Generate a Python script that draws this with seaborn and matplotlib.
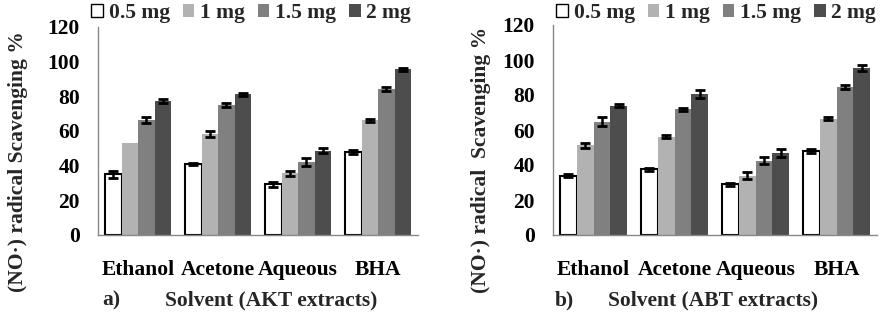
import numpy as np
import pandas as pd
import matplotlib
matplotlib.use("Agg")
import matplotlib.pyplot as plt
from matplotlib.patches import Patch
import seaborn as sns

categories = ["Ethanol", "Acetone", "Aqueous", "BHA"]
doses = ["0.5 mg", "1 mg", "1.5 mg", "2 mg"]

# AKT extracts (panel a)
akt_05 = [35.0, 41.0, 29.3, 47.8]
akt_1 = [53.0, 58.3, 35.5, 66.2]
akt_15 = [66.3, 75.0, 42.2, 84.3]
akt_2 = [77.3, 81.2, 48.6, 95.6]
akt_err_05 = [2.0, 0.6, 1.4, 1.2]
akt_err_1 = [0.0, 1.5, 1.4, 1.0]
akt_err_15 = [1.8, 1.0, 2.5, 1.3]
akt_err_2 = [1.0, 1.0, 1.5, 1.0]

# ABT extracts (panel b)
abt_05 = [34.0, 37.5, 29.0, 47.8]
abt_1 = [51.2, 56.2, 33.8, 66.5]
abt_15 = [64.8, 71.8, 42.3, 84.5]
abt_2 = [73.8, 80.6, 46.8, 95.5]
abt_err_05 = [1.0, 1.0, 1.0, 1.2]
abt_err_1 = [1.5, 0.8, 2.0, 1.0]
abt_err_15 = [2.5, 1.0, 2.0, 1.0]
abt_err_2 = [0.8, 2.5, 2.5, 1.5]

colors = ["#FFFFFF", "#B2B2B2", "#808080", "#4D4D4D"]

W, H = 884, 322
FS = 15.5
FONT = "Liberation Serif"

sns.set_theme(style="white")
plt.rcParams["font.family"] = [FONT, "DejaVu Serif"]
plt.rcParams["font.weight"] = "bold"


def build(vals, errs):
    rows = []
    for d, v, e in zip(doses, vals, errs):
        for c, vv, ee in zip(categories, v, e):
            rows.append({"Solvent": c, "Dose": d, "value": vv, "err": ee})
    return pd.DataFrame(rows)


fig = plt.figure(figsize=(W / 100, H / 100), dpi=100)


def panel(rect, df, ylabel, ylab_coords, tag, tag_xy, xlabel, xlabel_xy, legend_xy):
    ax = fig.add_axes(rect)
    sns.barplot(data=df, x="Solvent", y="value", hue="Dose", order=categories,
                hue_order=doses, palette=colors, errorbar=None, width=0.825,
                linewidth=0, ax=ax)
    if ax.get_legend() is not None:
        ax.get_legend().remove()
    for cont, d in zip(ax.containers, doses):
        sub = df[df["Dose"] == d].set_index("Solvent").loc[categories]
        xs, ys, es = [], [], []
        for bar, v, e in zip(cont, sub["value"], sub["err"]):
            if d == doses[0]:
                bar.set_edgecolor("black")
                bar.set_linewidth(1.5)
            if e > 0:
                xs.append(bar.get_x() + bar.get_width() / 2)
                ys.append(v)
                es.append(e)
        ax.errorbar(xs, ys, yerr=es, fmt="none", ecolor="black",
                    elinewidth=1.8, capsize=3.5, capthick=2.0, zorder=5)
    ax.set_ylim(0, 120)
    ax.set_xlim(-0.5, 3.5)
    ax.set_yticks(np.arange(0, 121, 20))
    ax.tick_params(axis="both", length=0, labelsize=FS, colors="black")
    ax.tick_params(axis="y", pad=13)
    ax.tick_params(axis="x", pad=18)
    for lab in ax.get_xticklabels() + ax.get_yticklabels():
        lab.set_fontweight("bold")
        lab.set_family(FONT)
    for s in ["top", "right"]:
        ax.spines[s].set_visible(False)
    for s in ["left", "bottom"]:
        ax.spines[s].set_color("#888888")
        ax.spines[s].set_linewidth(1.0)
    ax.set_xlabel("")
    ax.set_ylabel(ylabel, fontsize=FS, fontweight="bold", family=FONT)
    ax.yaxis.set_label_coords(*ylab_coords)
    fig.text(tag_xy[0] / W, 1 - tag_xy[1] / H, tag, fontsize=FS,
             fontweight="bold", family=FONT, ha="left", va="center")
    fig.text(xlabel_xy[0] / W, 1 - xlabel_xy[1] / H, xlabel, fontsize=FS,
             fontweight="bold", family=FONT, ha="center", va="center")
    handles = [Patch(facecolor=c, edgecolor="black" if i == 0 else c,
                     linewidth=1.0 if i == 0 else 0)
               for i, c in enumerate(colors)]
    ax.legend(handles, doses, ncol=4, loc="center",
              bbox_to_anchor=(legend_xy[0] / W, 1 - legend_xy[1] / H),
              bbox_transform=fig.transFigure, frameon=False,
              prop={"family": FONT, "weight": "bold", "size": FS},
              handlelength=0.55, handleheight=0.55, handletextpad=0.25,
              columnspacing=0.6, borderpad=0, borderaxespad=0)
    return ax


df_akt = build([akt_05, akt_1, akt_15, akt_2],
               [akt_err_05, akt_err_1, akt_err_15, akt_err_2])
df_abt = build([abt_05, abt_1, abt_15, abt_2],
               [abt_err_05, abt_err_1, abt_err_15, abt_err_2])

panel([98 / W, (H - 235) / H, 320 / W, 208 / H], df_akt,
      "(NO·) radical Scavenging %", (-0.22, 0.351),
      "a)", (102, 300), "Solvent (AKT extracts)", (271, 300), (251, 13))
panel([553 / W, (H - 235) / H, 324 / W, 210 / H], df_abt,
      "(NO·) radical  Scavenging %", (-0.192, 0.357),
      "b)", (555, 300), "Solvent (ABT extracts)", (713, 300), (716, 13))

fig.savefig("out.png", dpi=100)
